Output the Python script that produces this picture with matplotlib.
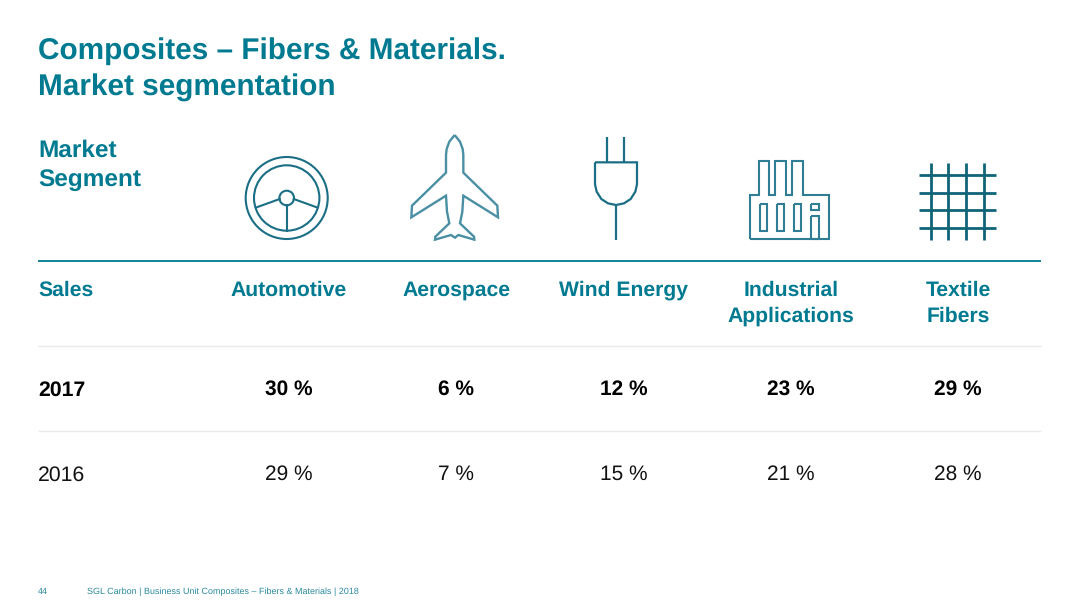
import matplotlib
matplotlib.use('Agg')
import matplotlib.pyplot as plt
from matplotlib.patches import Circle

plt.rcParams['font.family'] = ['Liberation Sans', 'DejaVu Sans']
plt.rcParams['text.hinting'] = 'no_hinting'
plt.rcParams['text.hinting_factor'] = 8

teal = '#007A91'
icon_color = '#1A6E85'
rule_light = '#E9E9E9'

# table contents
segments = [['Automotive'], ['Aerospace'], ['Wind Energy'], ['Industrial', 'Applications'], ['Textile', 'Fibers']]
years = ['2017', '2016']
sales_2017 = [30, 6, 12, 23, 29]
sales_2016 = [29, 7, 15, 21, 28]
col_x = [289, 456, 623.5, 791, 958]

fig = plt.figure(figsize=(10.8, 6.07), dpi=100)
ax = fig.add_axes([0, 0, 1, 1])
ax.set_xlim(0, 1080)
ax.set_ylim(607, 0)
ax.axis('off')

# Title
ax.text(38, 59, 'Composites – Fibers & Materials.', color=teal, fontsize=21.45, fontweight='bold', va='baseline')
ax.text(38, 95.5, 'Market segmentation', color=teal, fontsize=21.45, fontweight='bold', va='baseline')
ax.text(38, 157, 'Market', color=teal, fontsize=17.6, fontweight='bold', va='baseline')
ax.text(38, 186, 'Segment', color=teal, fontsize=17.6, fontweight='bold', va='baseline')


def line(points, ox, oy, lw=1.6, color=icon_color, closed=False):
    pts = [(ox + x / 3, oy + y / 3) for x, y in points]
    if closed:
        pts.append(pts[0])
    ax.plot([p[0] for p in pts], [p[1] for p in pts], color=color, lw=lw,
            solid_joinstyle='miter', solid_capstyle='butt')


# Steering wheel
cx, cy = 286.7, 198
for r in [41, 32.7, 7.3]:
    ax.add_patch(Circle((cx, cy), r, fill=False, ec=icon_color, lw=1.5))
ax.plot([cx - 7, 256.7], [cy + 1, 207.3], color=icon_color, lw=1.5)
ax.plot([cx + 7, 316.7], [cy + 1, 207.3], color=icon_color, lw=1.5)
ax.plot([cx, cx], [cy + 7.3, 230.5], color=icon_color, lw=1.5)

# Plane, right half mirrored round the nose
plane_right = [(674, 30), (690, 50), (698, 72), (700, 90), (700, 143), (802, 242), (804, 277),
               (700, 212), (697, 260), (690, 295), (732, 335), (733, 344), (685, 330), (675, 338)]
plane_left = [(2 * 674 - x, y) for x, y in plane_right[::-1][1:-1]]
line(plane_right + plane_left, 230, 125, lw=1.7, color='#4A8FA3', closed=True)

# Plug
line([(111, 37), (111, 112)], 570, 125)
line([(163, 37), (163, 112)], 570, 125)
line([(138, 240), (138, 344)], 570, 125)
line([(75, 112), (201, 112), (201, 178), (196, 200), (182, 222), (162, 235), (138, 240),
      (114, 235), (94, 222), (80, 200), (75, 178)], 570, 125, closed=True)

# Factory
line([(541, 342), (541, 209), (566, 209), (566, 107), (598, 107), (598, 209), (616, 209),
      (616, 107), (649, 107), (649, 209), (667, 209), (667, 107), (699, 107), (699, 209),
      (776, 209), (776, 342)], 570, 125, lw=1.5, color='#2F7E95', closed=True)
for x0, y0, x1, y1 in [(570, 237, 592, 318), (621, 237, 643, 318), (672, 237, 694, 318),
                       (722, 237, 746, 254), (722, 272, 746, 342)]:
    line([(x0, y0), (x1, y0), (x1, y1), (x0, y1)], 570, 125, lw=1.5, color='#2F7E95', closed=True)

# Textile grid
for x in [1082, 1135, 1188, 1241]:
    line([(x, 113), (x, 344)], 570, 125, lw=2, color='#0F6478')
for y in [150, 203, 256, 308]:
    line([(1047, y), (1277, y)], 570, 125, lw=2, color='#0F6478')

# Rules
ax.plot([38, 1041], [261, 261], color=teal, lw=1.3, solid_capstyle='butt')
ax.plot([38, 1041], [346, 346], color=rule_light, lw=1, solid_capstyle='butt')
ax.plot([38, 1041], [431, 431], color=rule_light, lw=1, solid_capstyle='butt')

# Header row
ax.text(38, 296, 'Sales', color=teal, fontsize=15.2, fontweight='bold', va='baseline')
for x, name in zip(col_x, segments):
    for i, part in enumerate(name):
        ax.text(x, 296 + i * 25.5, part, color=teal, fontsize=15.2, fontweight='bold', ha='center', va='baseline')

# Value rows
ax.text(38, 395.5, years[0], color='black', fontsize=15.3, fontweight='bold', va='baseline')
ax.text(38, 480.5, years[1], color='#111111', fontsize=15.3, va='baseline')
for x, a, b in zip(col_x, sales_2017, sales_2016):
    ax.text(x, 395, f'{a} %', color='black', fontsize=15, fontweight='bold', ha='center', va='baseline')
    ax.text(x, 480, f'{b} %', color='#111111', fontsize=15, ha='center', va='baseline')

# Footer
ax.text(38, 594, '44', color='#2A8A9E', fontsize=6.5, va='baseline')
ax.text(87, 594, 'SGL Carbon | Business Unit Composites – Fibers & Materials | 2018', color='#2A8A9E',
        fontsize=6.5, va='baseline')

fig.savefig('out.png', dpi=100, facecolor='white')
